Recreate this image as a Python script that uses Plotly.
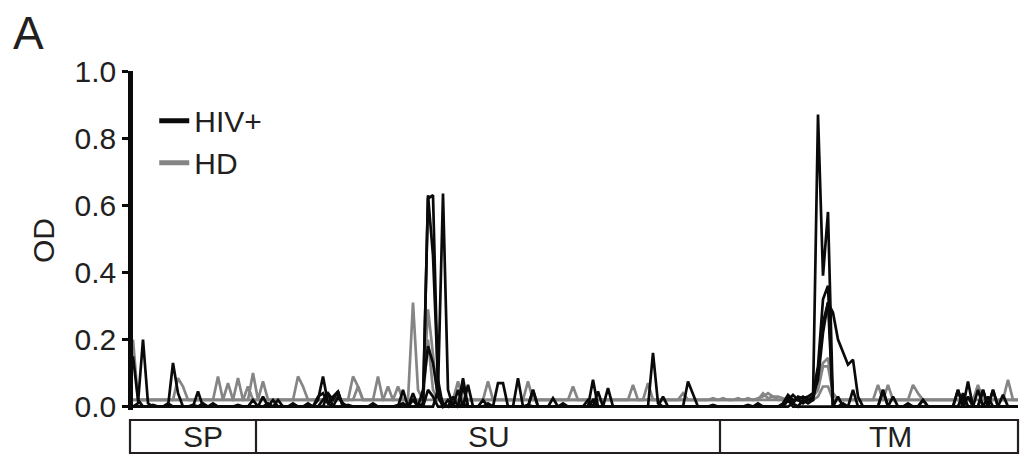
import plotly.graph_objects as go

# Peptide positions along Env (one point per overlapping peptide)
n_peptides = 178
positions = list(range(n_peptides))

# OD readings, HIV+ donors
hiv_1 = [
    0.15, 0.02, 0.0, 0.0, 0.005, 0.0, 0.0, 0.01, 0.0, 0.0,
    0.0, 0.0, 0.005, 0.0, 0.0, 0.0, 0.01, 0.0, 0.0, 0.0,
    0.0, 0.005, 0.0, 0.0, 0.0, 0.0, 0.0, 0.01, 0.0, 0.0,
    0.0, 0.0, 0.005, 0.0, 0.0, 0.0, 0.0, 0.02, 0.09, 0.01,
    0.0, 0.0, 0.0, 0.005, 0.0, 0.0, 0.0, 0.0, 0.01, 0.0,
    0.0, 0.0, 0.0, 0.005, 0.01, 0.0, 0.0, 0.0, 0.01, 0.62,
    0.63, 0.05, 0.01, 0.0, 0.03, 0.0, 0.01, 0.0, 0.0, 0.0,
    0.0, 0.01, 0.0, 0.0, 0.0, 0.0, 0.0, 0.0, 0.0, 0.005,
    0.0, 0.0, 0.0, 0.0, 0.0, 0.0, 0.01, 0.0, 0.0, 0.0,
    0.0, 0.02, 0.0, 0.0, 0.0, 0.0, 0.0, 0.0, 0.0, 0.0,
    0.0, 0.0, 0.0, 0.0, 0.16, 0.01, 0.0, 0.0, 0.0, 0.0,
    0.0, 0.0, 0.0, 0.0, 0.0, 0.0, 0.005, 0.0, 0.0, 0.0,
    0.0, 0.0, 0.0, 0.005, 0.0, 0.0, 0.0, 0.0, 0.0, 0.0,
    0.01, 0.035, 0.02, 0.02, 0.01, 0.02, 0.02, 0.87, 0.39, 0.58,
    0.0, 0.0, 0.01, 0.0, 0.0, 0.0, 0.0, 0.0, 0.0, 0.0,
    0.0, 0.0, 0.0, 0.0, 0.0, 0.01, 0.0, 0.0, 0.02, 0.0,
    0.0, 0.0, 0.0, 0.0, 0.0, 0.0, 0.0, 0.03, 0.0, 0.0,
    0.0, 0.0, 0.05, 0.0, 0.0, 0.0, 0.0, 0.0,
]
hiv_2 = [
    0.0, 0.01, 0.2, 0.01, 0.0, 0.0, 0.0, 0.0, 0.0, 0.0,
    0.0, 0.0, 0.0, 0.0, 0.0, 0.0, 0.0, 0.0, 0.0, 0.0,
    0.0, 0.0, 0.0, 0.0, 0.0, 0.0, 0.03, 0.0, 0.0, 0.02,
    0.0, 0.0, 0.0, 0.0, 0.0, 0.0, 0.0, 0.0, 0.02, 0.04,
    0.02, 0.045, 0.0, 0.0, 0.0, 0.0, 0.0, 0.0, 0.0, 0.0,
    0.0, 0.0, 0.0, 0.0, 0.05, 0.0, 0.0, 0.0, 0.0, 0.63,
    0.45, 0.08, 0.0, 0.0, 0.0, 0.0, 0.085, 0.0, 0.0, 0.0,
    0.0, 0.0, 0.0, 0.0, 0.0, 0.0, 0.0, 0.0, 0.0, 0.0,
    0.05, 0.0, 0.0, 0.0, 0.0, 0.0, 0.0, 0.0, 0.0, 0.0,
    0.0, 0.0, 0.0, 0.045, 0.0, 0.0, 0.0, 0.0, 0.0, 0.0,
    0.0, 0.0, 0.0, 0.0, 0.0, 0.0, 0.0, 0.0, 0.0, 0.0,
    0.0, 0.075, 0.04, 0.0, 0.0, 0.0, 0.0, 0.0, 0.0, 0.0,
    0.0, 0.0, 0.0, 0.0, 0.0, 0.0, 0.0, 0.0, 0.0, 0.0,
    0.0, 0.02, 0.035, 0.02, 0.03, 0.02, 0.03, 0.08, 0.22, 0.31,
    0.28, 0.2, 0.16, 0.125, 0.14, 0.03, 0.0, 0.0, 0.0, 0.0,
    0.0, 0.0, 0.0, 0.0, 0.0, 0.0, 0.0, 0.0, 0.0, 0.0,
    0.0, 0.0, 0.0, 0.0, 0.0, 0.05, 0.0, 0.0, 0.0, 0.0,
    0.05, 0.0, 0.0, 0.0, 0.0, 0.0, 0.0, 0.0,
]
hiv_3 = [
    0.0, 0.0, 0.0, 0.0, 0.0, 0.0, 0.0, 0.0, 0.13, 0.04,
    0.0, 0.0, 0.0, 0.0, 0.0, 0.0, 0.0, 0.0, 0.0, 0.0,
    0.0, 0.0, 0.0, 0.0, 0.02, 0.0, 0.0, 0.0, 0.0, 0.0,
    0.0, 0.0, 0.01, 0.0, 0.0, 0.0, 0.0, 0.0, 0.0, 0.0,
    0.0, 0.03, 0.01, 0.0, 0.0, 0.0, 0.0, 0.0, 0.0, 0.0,
    0.0, 0.0, 0.0, 0.0, 0.0, 0.0, 0.04, 0.0, 0.0, 0.0,
    0.0, 0.05, 0.635, 0.05, 0.0, 0.0, 0.0, 0.065, 0.0, 0.0,
    0.0, 0.0, 0.0, 0.0, 0.0, 0.0, 0.0, 0.085, 0.0, 0.0,
    0.05, 0.0, 0.0, 0.0, 0.025, 0.0, 0.0, 0.0, 0.0, 0.0,
    0.0, 0.0, 0.08, 0.0, 0.0, 0.0, 0.0, 0.0, 0.0, 0.0,
    0.0, 0.0, 0.0, 0.0, 0.0, 0.0, 0.03, 0.0, 0.0, 0.0,
    0.0, 0.0, 0.0, 0.0, 0.0, 0.0, 0.0, 0.0, 0.0, 0.0,
    0.0, 0.0, 0.0, 0.0, 0.0, 0.0, 0.0, 0.0, 0.0, 0.0,
    0.0, 0.0, 0.01, 0.03, 0.025, 0.03, 0.04, 0.12, 0.32, 0.36,
    0.0, 0.03, 0.0, 0.0, 0.05, 0.0, 0.0, 0.0, 0.0, 0.0,
    0.05, 0.0, 0.03, 0.0, 0.0, 0.0, 0.0, 0.0, 0.02, 0.0,
    0.0, 0.0, 0.0, 0.0, 0.0, 0.0, 0.04, 0.0, 0.0, 0.0,
    0.0, 0.0, 0.0, 0.0, 0.035, 0.0, 0.0, 0.0,
]
hiv_4 = [
    0.0, 0.0, 0.0, 0.0, 0.0, 0.0, 0.0, 0.0, 0.0, 0.0,
    0.0, 0.0, 0.0, 0.045, 0.0, 0.0, 0.0, 0.0, 0.0, 0.0,
    0.0, 0.0, 0.0, 0.0, 0.0, 0.0, 0.0, 0.0, 0.02, 0.0,
    0.0, 0.0, 0.0, 0.0, 0.0, 0.0, 0.0, 0.03, 0.04, 0.01,
    0.03, 0.045, 0.0, 0.0, 0.0, 0.0, 0.0, 0.0, 0.0, 0.0,
    0.0, 0.0, 0.0, 0.0, 0.0, 0.0, 0.02, 0.0, 0.05, 0.18,
    0.13, 0.03, 0.0, 0.02, 0.0, 0.05, 0.0, 0.0, 0.0, 0.0,
    0.0, 0.0, 0.0, 0.07, 0.07, 0.0, 0.0, 0.0, 0.0, 0.0,
    0.0, 0.0, 0.0, 0.0, 0.0, 0.0, 0.0, 0.0, 0.0, 0.0,
    0.0, 0.0, 0.0, 0.0, 0.0, 0.055, 0.0, 0.0, 0.0, 0.0,
    0.0, 0.0, 0.0, 0.0, 0.0, 0.0, 0.0, 0.0, 0.0, 0.0,
    0.0, 0.0, 0.0, 0.0, 0.0, 0.0, 0.0, 0.0, 0.0, 0.0,
    0.0, 0.0, 0.0, 0.0, 0.0, 0.01, 0.0, 0.0, 0.0, 0.0,
    0.0, 0.03, 0.01, 0.0, 0.02, 0.01, 0.02, 0.1, 0.25, 0.31,
    0.0, 0.0, 0.0, 0.0, 0.0, 0.0, 0.0, 0.0, 0.0, 0.0,
    0.05, 0.0, 0.0, 0.0, 0.0, 0.0, 0.0, 0.0, 0.0, 0.0,
    0.0, 0.0, 0.0, 0.0, 0.0, 0.05, 0.0, 0.075, 0.0, 0.0,
    0.05, 0.0, 0.05, 0.0, 0.0, 0.0, 0.0, 0.0,
]
hiv_5 = [
    0.0, 0.0, 0.0, 0.0, 0.0, 0.0, 0.0, 0.0, 0.0, 0.0,
    0.0, 0.0, 0.0, 0.0, 0.01, 0.0, 0.0, 0.0, 0.0, 0.0,
    0.0, 0.0, 0.0, 0.0, 0.0, 0.0, 0.0, 0.0, 0.0, 0.0,
    0.0, 0.0, 0.0, 0.0, 0.0, 0.01, 0.0, 0.0, 0.0, 0.04,
    0.0, 0.0, 0.0, 0.0, 0.0, 0.0, 0.0, 0.0, 0.0, 0.0,
    0.0, 0.0, 0.0, 0.0, 0.0, 0.0, 0.0, 0.0, 0.0, 0.05,
    0.03, 0.0, 0.0, 0.0, 0.0, 0.0, 0.06, 0.0, 0.0, 0.0,
    0.02, 0.0, 0.0, 0.0, 0.0, 0.0, 0.0, 0.0, 0.0, 0.0,
    0.0, 0.0, 0.0, 0.0, 0.0, 0.0, 0.0, 0.0, 0.0, 0.0,
    0.0, 0.0, 0.02, 0.0, 0.0, 0.0, 0.0, 0.0, 0.0, 0.0,
    0.0, 0.0, 0.0, 0.0, 0.0, 0.0, 0.0, 0.0, 0.0, 0.0,
    0.0, 0.0, 0.0, 0.0, 0.0, 0.0, 0.0, 0.0, 0.0, 0.0,
    0.0, 0.0, 0.0, 0.0, 0.0, 0.0, 0.0, 0.0, 0.0, 0.0,
    0.0, 0.02, 0.0, 0.0, 0.0, 0.0, 0.0, 0.0, 0.0, 0.0,
    0.0, 0.0, 0.0, 0.0, 0.0, 0.0, 0.0, 0.0, 0.0, 0.0,
    0.0, 0.0, 0.0, 0.0, 0.0, 0.0, 0.0, 0.0, 0.0, 0.0,
    0.0, 0.0, 0.0, 0.0, 0.0, 0.0, 0.03, 0.0, 0.0, 0.05,
    0.0, 0.03, 0.0, 0.0, 0.0, 0.0, 0.0, 0.0,
]

# OD readings, healthy donors
hd_1 = [
    0.2, 0.02, 0.02, 0.02, 0.02, 0.02, 0.02, 0.02, 0.02, 0.085,
    0.06, 0.02, 0.02, 0.02, 0.02, 0.02, 0.02, 0.02, 0.02, 0.02,
    0.02, 0.085, 0.02, 0.02, 0.02, 0.02, 0.02, 0.02, 0.02, 0.02,
    0.02, 0.02, 0.02, 0.09, 0.06, 0.02, 0.02, 0.02, 0.02, 0.02,
    0.02, 0.02, 0.02, 0.02, 0.09, 0.06, 0.02, 0.02, 0.02, 0.02,
    0.02, 0.02, 0.02, 0.02, 0.02, 0.02, 0.31, 0.05, 0.02, 0.02,
    0.02, 0.02, 0.02, 0.02, 0.02, 0.075, 0.02, 0.02, 0.02, 0.02,
    0.02, 0.02, 0.02, 0.02, 0.02, 0.02, 0.02, 0.02, 0.02, 0.075,
    0.02, 0.02, 0.02, 0.02, 0.02, 0.02, 0.02, 0.02, 0.02, 0.02,
    0.02, 0.02, 0.02, 0.02, 0.02, 0.02, 0.02, 0.02, 0.02, 0.02,
    0.065, 0.02, 0.02, 0.02, 0.02, 0.02, 0.02, 0.02, 0.02, 0.02,
    0.02, 0.02, 0.02, 0.02, 0.02, 0.02, 0.02, 0.02, 0.02, 0.02,
    0.02, 0.025, 0.02, 0.025, 0.02, 0.02, 0.02, 0.02, 0.02, 0.02,
    0.02, 0.02, 0.02, 0.02, 0.02, 0.02, 0.03, 0.05, 0.12, 0.12,
    0.04, 0.02, 0.02, 0.02, 0.02, 0.02, 0.02, 0.02, 0.02, 0.065,
    0.02, 0.02, 0.02, 0.02, 0.02, 0.02, 0.065, 0.04, 0.02, 0.02,
    0.02, 0.02, 0.02, 0.02, 0.02, 0.02, 0.02, 0.02, 0.02, 0.02,
    0.02, 0.02, 0.02, 0.02, 0.02, 0.08, 0.02, 0.02,
]
hd_2 = [
    0.02, 0.02, 0.02, 0.02, 0.02, 0.02, 0.02, 0.02, 0.02, 0.02,
    0.02, 0.02, 0.02, 0.02, 0.02, 0.02, 0.02, 0.09, 0.02, 0.07,
    0.02, 0.02, 0.02, 0.02, 0.1, 0.02, 0.075, 0.02, 0.02, 0.02,
    0.02, 0.02, 0.02, 0.02, 0.02, 0.02, 0.02, 0.02, 0.02, 0.02,
    0.02, 0.02, 0.02, 0.02, 0.02, 0.02, 0.02, 0.02, 0.02, 0.09,
    0.02, 0.02, 0.02, 0.06, 0.02, 0.02, 0.02, 0.02, 0.02, 0.29,
    0.15, 0.02, 0.02, 0.02, 0.02, 0.02, 0.02, 0.02, 0.02, 0.02,
    0.02, 0.075, 0.02, 0.02, 0.02, 0.02, 0.02, 0.02, 0.02, 0.02,
    0.02, 0.02, 0.02, 0.02, 0.02, 0.02, 0.02, 0.02, 0.06, 0.02,
    0.02, 0.02, 0.02, 0.02, 0.02, 0.02, 0.02, 0.02, 0.02, 0.02,
    0.02, 0.02, 0.02, 0.07, 0.02, 0.02, 0.02, 0.02, 0.02, 0.02,
    0.04, 0.02, 0.02, 0.02, 0.02, 0.02, 0.02, 0.02, 0.02, 0.02,
    0.02, 0.02, 0.02, 0.02, 0.02, 0.02, 0.04, 0.025, 0.03, 0.02,
    0.02, 0.02, 0.02, 0.02, 0.02, 0.02, 0.04, 0.09, 0.13, 0.145,
    0.04, 0.02, 0.02, 0.02, 0.02, 0.02, 0.02, 0.02, 0.02, 0.02,
    0.02, 0.065, 0.02, 0.02, 0.02, 0.02, 0.02, 0.02, 0.02, 0.02,
    0.02, 0.02, 0.02, 0.02, 0.02, 0.02, 0.02, 0.02, 0.02, 0.065,
    0.02, 0.02, 0.02, 0.02, 0.02, 0.02, 0.02, 0.02,
]
hd_3 = [
    0.02, 0.02, 0.02, 0.02, 0.02, 0.02, 0.02, 0.02, 0.02, 0.02,
    0.02, 0.02, 0.02, 0.02, 0.02, 0.02, 0.02, 0.02, 0.02, 0.02,
    0.02, 0.02, 0.02, 0.06, 0.02, 0.02, 0.02, 0.02, 0.02, 0.02,
    0.02, 0.02, 0.02, 0.02, 0.02, 0.02, 0.02, 0.02, 0.02, 0.02,
    0.02, 0.02, 0.02, 0.02, 0.02, 0.06, 0.02, 0.02, 0.02, 0.02,
    0.02, 0.06, 0.02, 0.02, 0.02, 0.02, 0.02, 0.02, 0.02, 0.2,
    0.05, 0.02, 0.02, 0.02, 0.02, 0.02, 0.02, 0.02, 0.02, 0.02,
    0.02, 0.02, 0.02, 0.02, 0.02, 0.02, 0.02, 0.02, 0.02, 0.02,
    0.02, 0.02, 0.02, 0.02, 0.02, 0.02, 0.02, 0.02, 0.02, 0.02,
    0.02, 0.02, 0.02, 0.02, 0.02, 0.02, 0.02, 0.02, 0.02, 0.02,
    0.02, 0.02, 0.02, 0.02, 0.02, 0.02, 0.02, 0.02, 0.02, 0.02,
    0.02, 0.02, 0.02, 0.02, 0.02, 0.02, 0.025, 0.02, 0.025, 0.02,
    0.02, 0.02, 0.02, 0.02, 0.02, 0.025, 0.03, 0.04, 0.03, 0.03,
    0.025, 0.02, 0.02, 0.02, 0.02, 0.02, 0.02, 0.03, 0.06, 0.06,
    0.02, 0.02, 0.02, 0.02, 0.02, 0.02, 0.02, 0.02, 0.02, 0.02,
    0.02, 0.02, 0.02, 0.02, 0.02, 0.02, 0.02, 0.02, 0.02, 0.02,
    0.02, 0.02, 0.02, 0.02, 0.02, 0.02, 0.02, 0.02, 0.02, 0.02,
    0.02, 0.02, 0.02, 0.02, 0.02, 0.02, 0.02, 0.02,
]

hiv_series = [hiv_1, hiv_2, hiv_3, hiv_4, hiv_5]
hd_series = [hd_1, hd_2, hd_3]

# Env domains along the peptide axis
domain_names = ["SP", "SU", "TM"]
domain_starts = [-0.6, 24.6, 117.4]
domain_ends = [24.6, 117.4, 177.0]
domain_label_x = [14.0, 71.2, 151.4]

y_ticks = [0.0, 0.2, 0.4, 0.6, 0.8, 1.0]
y_tick_text = ["0.0", "0.2", "0.4", "0.6", "0.8", "1.0"]

X_RANGE = [0, 177]
BLACK = "#0a0a0a"
GREY = "#858585"
TEXT = "#231f20"
FONT = "Liberation Sans, Arial, Helvetica, sans-serif"


def to_paper(v):
    # data x -> paper x, so the domain bar can extend past the plotting area
    return (v - X_RANGE[0]) / (X_RANGE[1] - X_RANGE[0])


fig = go.Figure()

for values in hd_series:
    fig.add_trace(go.Scatter(x=positions, y=values, mode="lines",
                             line=dict(color=GREY, width=2.7),
                             showlegend=False, hoverinfo="skip"))
for values in hiv_series:
    fig.add_trace(go.Scatter(x=positions, y=values, mode="lines",
                             line=dict(color=BLACK, width=2.7),
                             showlegend=False, hoverinfo="skip"))

# legend keys
fig.add_trace(go.Scatter(x=[None], y=[None], mode="lines", name="HIV+",
                         line=dict(color=BLACK, width=5)))
fig.add_trace(go.Scatter(x=[None], y=[None], mode="lines", name="HD",
                         line=dict(color=GREY, width=5)))

# domain bar under the plot
bar_top, bar_bottom = -0.0295, -0.1268
fig.add_shape(type="rect", xref="paper", yref="paper",
              x0=to_paper(domain_starts[0]), x1=to_paper(domain_ends[-1]),
              y0=bar_bottom, y1=bar_top,
              line=dict(color=TEXT, width=2.2), fillcolor="rgba(0,0,0,0)")
for start in domain_starts[1:]:
    fig.add_shape(type="line", xref="paper", yref="paper",
                  x0=to_paper(start), x1=to_paper(start), y0=bar_bottom, y1=bar_top,
                  line=dict(color=TEXT, width=2.2))
for name, lx in zip(domain_names, domain_label_x):
    fig.add_annotation(x=lx, y=(bar_top + bar_bottom) / 2, xref="x", yref="paper",
                       text=name, showarrow=False, xanchor="center", yanchor="middle",
                       font=dict(family=FONT, size=30, color=TEXT))

# panel letter
fig.add_annotation(x=-0.138, y=1.111, xref="paper", yref="paper", text="A",
                   showarrow=False, xanchor="left", yanchor="middle",
                   font=dict(family=FONT, size=46, color=TEXT))

fig.update_layout(
    width=1021, height=455,
    margin=dict(l=133, r=3, t=71, b=45),
    paper_bgcolor="white", plot_bgcolor="white",
    font=dict(family=FONT, color=TEXT),
    showlegend=True,
    legend=dict(x=0.024, y=0.93, xanchor="left", yanchor="top",
                font=dict(family=FONT, size=30, color=TEXT),
                bgcolor="rgba(0,0,0,0)", itemwidth=30, tracegroupgap=0),
    xaxis=dict(range=X_RANGE, visible=False),
    yaxis=dict(range=[-0.01, 1.0], tickmode="array", tickvals=y_ticks,
               ticktext=y_tick_text, ticks="outside", ticklen=6, tickwidth=3,
               tickcolor=BLACK, showline=True, linewidth=4.5, linecolor=BLACK,
               showgrid=False, zeroline=False,
               tickfont=dict(family=FONT, size=30, color=TEXT),
               title=dict(text="OD", standoff=13,
                          font=dict(family=FONT, size=30, color=TEXT))),
)

fig.write_html("out.html")
